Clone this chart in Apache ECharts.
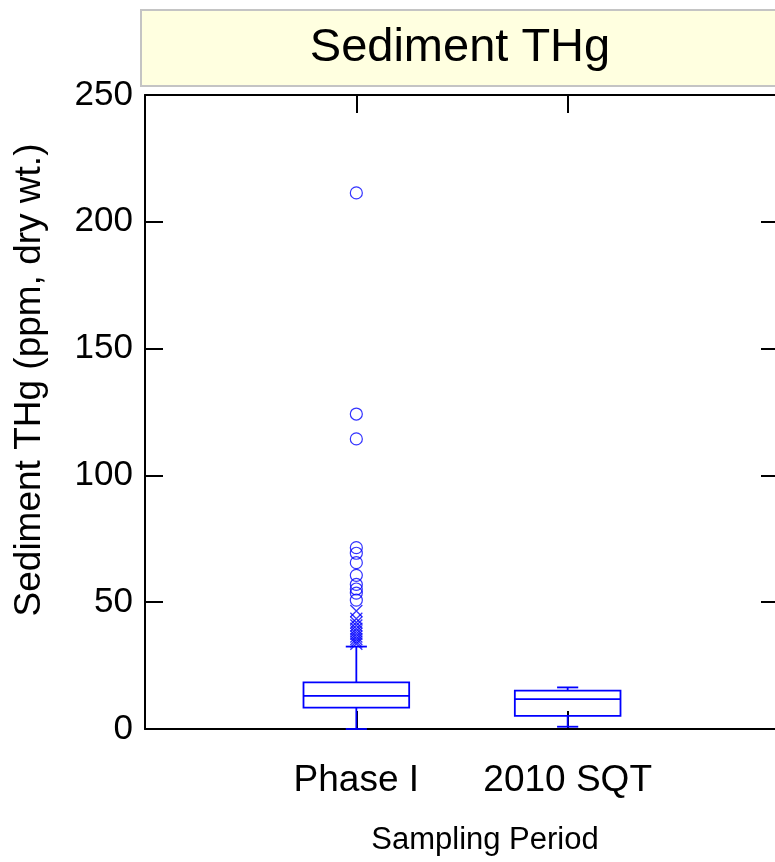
<!DOCTYPE html>
<html>
<head>
<meta charset="utf-8">
<script src="https://cdn.jsdelivr.net/npm/echarts@6/dist/echarts.min.js"></script>
<style>
  html, body { margin: 0; padding: 0; background: #fff; }
  #chart { width: 775px; height: 862px; }
</style>
</head>
<body>
<div id="chart"></div>
<script>
// data
const categories = ["Phase I", "2010 SQT"];
// [lower whisker, Q1, median, Q3, upper whisker]
const boxStats = [
  [0, 8.4, 13.1, 18.4, 32.5],
  [0.9, 5.2, 11.8, 15.1, 16.4]
];
// Phase I outside points (crosses) and far outside points (circles)
const phaseIOutside = [46.5, 43.5, 42, 40.8, 39.5, 38.5, 37.5, 36.5, 35.5, 34.5, 33.6];
const phaseIFarOutside = [211.4, 124.2, 114.4, 71.5, 69.3, 65.6, 60.6, 57.0, 55.2, 53.6, 50.8];
const yTicks = [0, 50, 100, 150, 200, 250];

const blue = "#0000ff";
const font = "Liberation Sans, Arial, sans-serif";

var chartDom = document.getElementById("chart");
var myChart = echarts.init(chartDom);

// x position of a category = index + 1 (axis runs 0..3)
const boxData = boxStats.map((s, i) => [i + 1].concat(s));
const crossData = phaseIOutside.map(v => [1, v]);
const circleData = phaseIFarOutside.map(v => [1, v]);

function renderBox(params, api) {
  var x = api.value(0);
  var lo = api.coord([x, api.value(1)]);
  var q1 = api.coord([x, api.value(2)]);
  var med = api.coord([x, api.value(3)]);
  var q3 = api.coord([x, api.value(4)]);
  var hi = api.coord([x, api.value(5)]);
  var half = api.size([1, 0])[0] * 0.25;
  var cap = api.size([1, 0])[0] * 0.05;
  var cx = lo[0];
  var style = { stroke: blue, lineWidth: 1.8, fill: null };
  return {
    type: "group",
    children: [
      { type: "rect", shape: { x: cx - half, y: q3[1], width: half * 2, height: q1[1] - q3[1] }, style: style },
      { type: "line", shape: { x1: cx - half, y1: med[1], x2: cx + half, y2: med[1] }, style: style },
      { type: "line", shape: { x1: cx, y1: q3[1], x2: cx, y2: hi[1] }, style: style },
      { type: "line", shape: { x1: cx, y1: q1[1], x2: cx, y2: lo[1] }, style: style },
      { type: "line", shape: { x1: cx - cap, y1: hi[1], x2: cx + cap, y2: hi[1] }, style: style },
      { type: "line", shape: { x1: cx - cap, y1: lo[1], x2: cx + cap, y2: lo[1] }, style: style }
    ]
  };
}

const axisLineStyle = { color: "#000", width: 2 };
const tickStyle = { inside: true, length: 18, lineStyle: { color: "#000", width: 2 } };

var option = {
  animation: false,
  backgroundColor: "#fff",
  title: {
    text: "Sediment THg",
    left: 455,
    top: 20,
    textAlign: "center",
    textStyle: { fontFamily: font, fontSize: 47, fontWeight: "normal", color: "#000" }
  },
  graphic: [
    {
      type: "rect",
      z: -1,
      shape: { x: 141, y: 10, width: 650, height: 76 },
      style: { fill: "#ffffe0", stroke: "#c4c4c4", lineWidth: 2 }
    }
  ],
  grid: { left: 145, top: 95, width: 634, height: 634, containLabel: false, outerBoundsMode: "none" },
  xAxis: [
    {
      type: "value",
      min: 0,
      max: 3,
      interval: 1,
      name: "Sampling Period",
      nameLocation: "middle",
      nameGap: 96,
      nameTextStyle: { fontFamily: font, fontSize: 31, color: "#000", padding: [0, 0, 0, 46] },
      axisLine: { onZero: false, lineStyle: axisLineStyle },
      axisTick: tickStyle,
      axisLabel: {
        margin: 33,
        fontFamily: font,
        fontSize: 37,
        color: "#000",
        formatter: v => categories[v - 1] || ""
      },
      splitLine: { show: false }
    },
    {
      type: "value",
      position: "top",
      min: 0,
      max: 3,
      interval: 1,
      axisLine: { onZero: false, lineStyle: axisLineStyle },
      axisTick: tickStyle,
      axisLabel: { show: false },
      splitLine: { show: false }
    }
  ],
  yAxis: [
    {
      type: "value",
      min: yTicks[0],
      max: yTicks[yTicks.length - 1],
      interval: 50,
      name: "Sediment THg (ppm, dry wt.)",
      nameLocation: "middle",
      nameGap: 97,
      nameTextStyle: { fontFamily: font, fontSize: 37, color: "#000", padding: [0, 0, 0, 64] },
      axisLine: { onZero: false, lineStyle: axisLineStyle },
      axisTick: tickStyle,
      axisLabel: { margin: 12, fontFamily: font, fontSize: 35, color: "#000" },
      splitLine: { show: false }
    },
    {
      type: "value",
      position: "right",
      min: yTicks[0],
      max: yTicks[yTicks.length - 1],
      interval: 50,
      axisLine: { onZero: false, lineStyle: axisLineStyle },
      axisTick: tickStyle,
      axisLabel: { show: false },
      splitLine: { show: false }
    }
  ],
  series: [
    {
      name: "box",
      type: "custom",
      renderItem: renderBox,
      encode: { x: 0, y: [1, 2, 3, 4, 5] },
      data: boxData,
      z: 5
    },
    {
      name: "outside",
      type: "scatter",
      symbol: "path://M0,0L10,10M10,0L0,10",
      symbolSize: 12,
      itemStyle: { color: "none", borderColor: blue, borderWidth: 1.3 },
      data: crossData,
      z: 6
    },
    {
      name: "far outside",
      type: "scatter",
      symbol: "circle",
      symbolSize: 12,
      itemStyle: { color: "none", borderColor: blue, borderWidth: 1.2 },
      data: circleData,
      z: 6
    }
  ]
};

option && myChart.setOption(option, true);
</script>
</body>
</html>
